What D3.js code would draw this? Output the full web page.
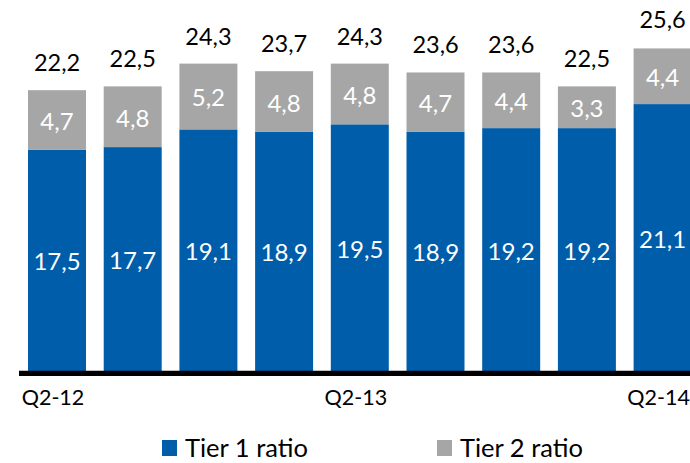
<!DOCTYPE html>
<html><head><meta charset="utf-8">
<script src="https://cdn.jsdelivr.net/npm/d3@7"></script>
<style>
html,body{margin:0;padding:0;background:#fff;}
svg{display:block;font-family:Lato,"Open Sans",sans-serif;}
</style></head>
<body>
<svg id="chart" width="690" height="463"></svg>
<script>
const categories = ["Q2-12","Q3-12","Q4-12","Q1-13","Q2-13","Q3-13","Q4-13","Q1-14","Q2-14"];
const tickLabels = ["Q2-12","Q2-13","Q2-14"];
const tier1 = [17.5,17.7,19.1,18.9,19.5,18.9,19.2,19.2,21.1];
const tier2 = [4.7,4.8,5.2,4.8,4.8,4.7,4.4,3.3,4.4];
const totals = [22.2,22.5,24.3,23.7,24.3,23.6,23.6,22.5,25.6];
const seriesNames = ["Tier 1 ratio","Tier 2 ratio"];
const colors = ["#005DAA","#A6A6A6"];

const fmt = v => d3.format(".1f")(v).replace(".", ",");
const svg = d3.select("#chart");

const step = 75.7, pIn = 0.234, pOut = 0.119;
const x = d3.scaleBand().domain(categories)
  .range([19, 19 + step * (categories.length - pIn + 2 * pOut)])
  .paddingInner(pIn).paddingOuter(pOut);
const y = d3.scaleLinear().domain([0, 28]).range([371, 371 - 28 * 12.65]);

const rows = categories.map((c, i) => ({cat: c, t1: tier1[i], t2: tier2[i], total: totals[i]}));
const stacked = d3.stack().keys(["t1","t2"])(rows);

const g = svg.append("g");
stacked.forEach((s, si) => {
  g.selectAll(null).data(s).enter().append("rect")
    .attr("x", d => x(d.data.cat))
    .attr("width", x.bandwidth())
    .attr("y", d => y(d[1]))
    .attr("height", d => y(d[0]) - y(d[1]))
    .attr("fill", colors[si]);
  g.selectAll(null).data(s).enter().append("text")
    .attr("x", d => x(d.data.cat) + x.bandwidth() / 2)
    .attr("y", d => (y(d[0]) + y(d[1])) / 2 + 10)
    .attr("text-anchor", "middle")
    .attr("fill", "#fff")
    .attr("font-size", 24)
    .text(d => fmt(d[1] - d[0]));
});

g.selectAll(null).data(rows).enter().append("text")
  .attr("x", d => x(d.cat) + x.bandwidth() / 2)
  .attr("y", d => y(d.total) - 19)
  .attr("text-anchor", "middle")
  .attr("fill", "#000")
  .attr("font-size", 23.5)
  .text(d => fmt(d.total));

// axis
const axis = d3.axisBottom(x).tickValues(tickLabels).tickSize(0).tickPadding(0);
const ax = svg.append("g").attr("transform", "translate(0,373.4)").call(axis);
ax.select(".domain").attr("stroke", "#000").attr("stroke-width", 5.3)
  .attr("d", `M19,0H690`);
ax.selectAll(".tick text")
  .attr("font-family", "Lato, sans-serif")
  .attr("font-size", 21.5).attr("fill", "#000")
  .attr("dy", 0).attr("y", 32).attr("x", -4);

// legend
const legX = [162, 437];
const leg = svg.append("g");
seriesNames.forEach((n, i) => {
  leg.append("rect").attr("x", legX[i]).attr("y", 440).attr("width", 15).attr("height", 16).attr("fill", colors[i]);
  leg.append("text").attr("x", legX[i] + 23).attr("y", 457).attr("font-size", 25.5).attr("fill", "#000").text(n);
});
</script>
</body></html>
